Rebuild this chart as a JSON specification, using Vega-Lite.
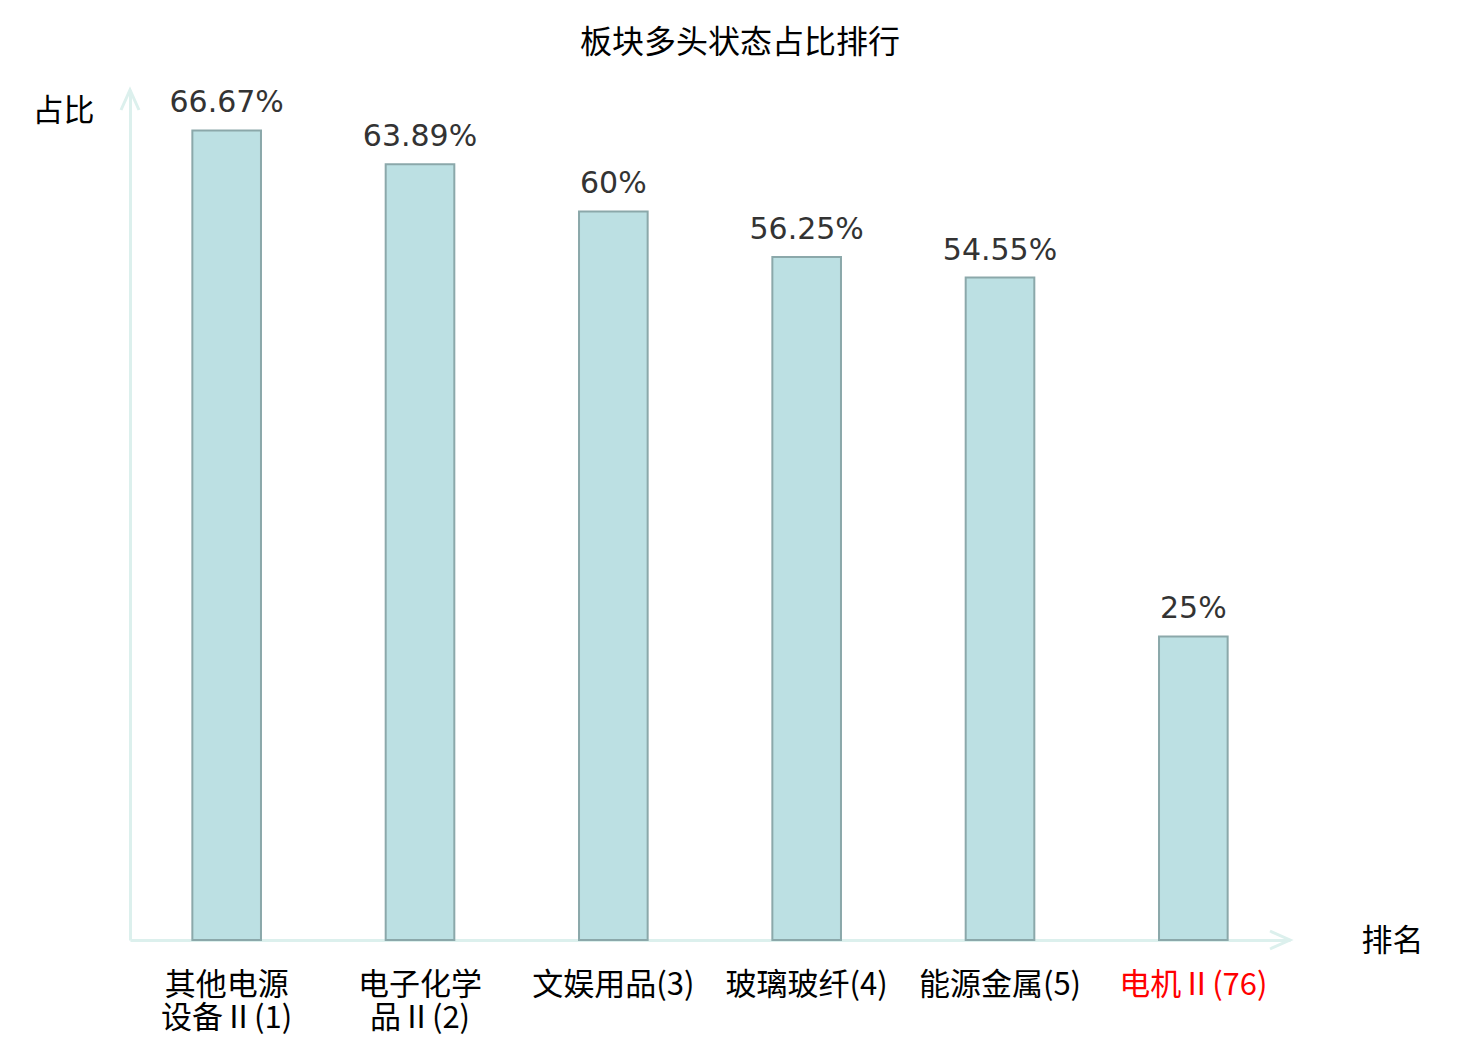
{
  "$schema": "https://vega.github.io/schema/vega-lite/v6.json",
  "autosize": {"type": "none"},
  "width": 1160,
  "height": 850,
  "padding": {"left": 130, "top": 90, "right": 190, "bottom": 100},
  "background": "#ffffff",
  "config": {"view": {"stroke": null}},
  "title": {
    "text": "板块多头状态占比排行",
    "font": "Noto Sans CJK SC",
    "fontSize": 32,
    "fontWeight": "normal",
    "color": "#000000",
    "anchor": "middle",
    "dx": 30,
    "offset": 24
  },
  "resolve": {"scale": {"x": "independent"}},
  "layer": [
    {
      "data": {
        "values": [
          {"rank": 1, "sector": "其他电源\n设备Ⅱ(1)", "ratio": 0.6667},
          {"rank": 2, "sector": "电子化学\n品Ⅱ(2)", "ratio": 0.6389},
          {"rank": 3, "sector": "文娱用品(3)", "ratio": 0.6},
          {"rank": 4, "sector": "玻璃玻纤(4)", "ratio": 0.5625},
          {"rank": 5, "sector": "能源金属(5)", "ratio": 0.5455},
          {"rank": 76, "sector": "电机Ⅱ(76)", "ratio": 0.25}
        ]
      },
      "encoding": {
        "x": {
          "field": "sector",
          "type": "nominal",
          "sort": {"field": "rank"},
          "scale": {"paddingInner": 0, "paddingOuter": 0},
          "axis": {
            "title": "排名",
            "titleFont": "Noto Sans CJK SC",
            "titleFontSize": 31,
            "titleFontWeight": "normal",
            "titleColor": "#000000",
            "titleAngle": 0,
            "titleX": 1262,
            "titleY": 1,
            "titleAlign": "center",
            "titleBaseline": "middle",
            "domain": true,
            "domainColor": "#dcf0ed",
            "domainWidth": 3,
            "ticks": false,
            "grid": false,
            "labelAngle": 0,
            "labelFont": "Noto Sans CJK SC",
            "labelFontSize": 31,
            "labelLineHeight": 33,
            "labelPadding": 30,
            "labelLimit": 400,
            "labelOverlap": false,
            "labelExpr": "split(datum.value, '\\n')",
            "labelColor": {
              "condition": {"test": "indexof(datum.value, '电机') >= 0", "value": "#ff0000"},
              "value": "#000000"
            }
          }
        },
        "y": {
          "field": "ratio",
          "type": "quantitative",
          "scale": {"domain": [0, 0.7], "nice": false},
          "axis": {
            "title": "占比",
            "titleFont": "Noto Sans CJK SC",
            "titleFontSize": 31,
            "titleFontWeight": "normal",
            "titleColor": "#000000",
            "titleAngle": 0,
            "titleX": -67,
            "titleY": 21,
            "titleAlign": "center",
            "titleBaseline": "middle",
            "domain": true,
            "domainColor": "#dcf0ed",
            "domainWidth": 3,
            "ticks": false,
            "labels": false,
            "grid": false
          }
        }
      },
      "layer": [
        {
          "mark": {"type": "bar", "fill": "#bce0e3", "stroke": "#8ba8aa", "strokeWidth": 2, "width": {"band": 0.355}}
        },
        {
          "mark": {"type": "text", "font": "DejaVu Sans", "fontSize": 30, "color": "#333333", "baseline": "alphabetic", "dy": -18},
          "encoding": {"text": {"field": "ratio", "type": "quantitative", "format": ".2~%"}}
        }
      ]
    },
    {
      "data": {"values": [{}]},
      "layer": [
        {
          "mark": {"type": "point", "shape": "M -0.45 1 L 0 0 L 0.45 1", "filled": false, "stroke": "#dcf0ed", "strokeWidth": 3, "size": 1600, "opacity": 1},
          "encoding": {
            "x": {"datum": 0, "type": "quantitative", "scale": {"domain": [0, 1], "nice": false, "zero": false}, "axis": null},
            "y": {"datum": 0.7, "type": "quantitative"}
          }
        },
        {
          "mark": {"type": "point", "shape": "M -1 -0.45 L 0 0 L -1 0.45", "filled": false, "stroke": "#dcf0ed", "strokeWidth": 3, "size": 1600, "opacity": 1},
          "encoding": {
            "x": {"datum": 1, "type": "quantitative", "scale": {"domain": [0, 1], "nice": false, "zero": false}, "axis": null},
            "y": {"datum": 0, "type": "quantitative"}
          }
        }
      ]
    }
  ]
}
